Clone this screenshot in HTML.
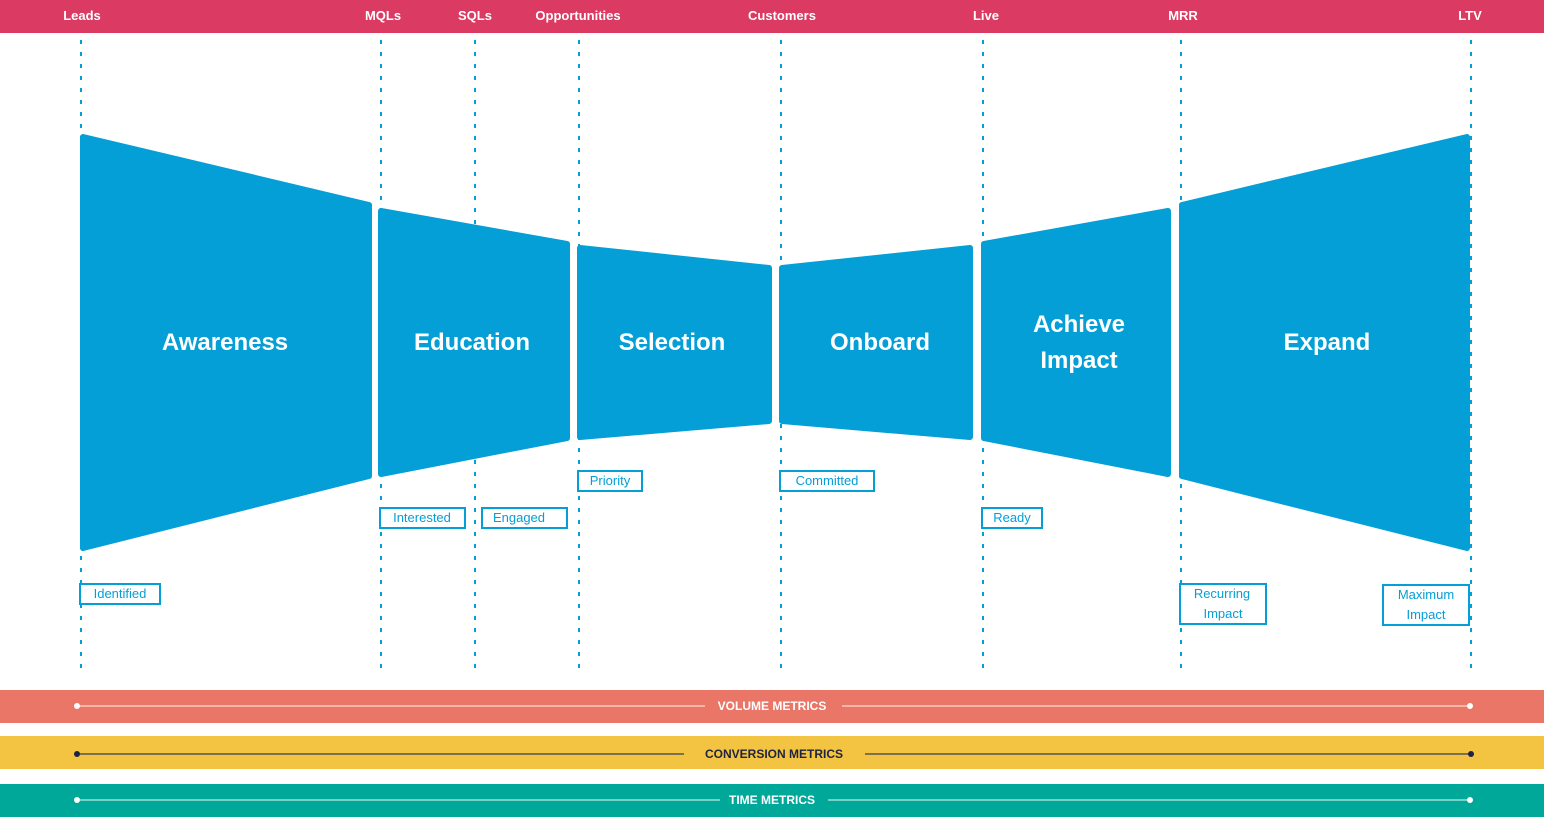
<!DOCTYPE html>
<html><head><meta charset="utf-8"><style>
body{margin:0;background:#fff;width:1544px;height:818px;overflow:hidden}
svg{display:block}
text{font-family:"Liberation Sans",sans-serif;font-weight:bold}
text.n{font-weight:normal}
</style></head><body>
<svg width="1544" height="818" viewBox="0 0 1544 818" xmlns="http://www.w3.org/2000/svg">
<rect x="0" y="0" width="1544" height="33" fill="#db3a63"/>
<g fill="#fff" font-size="13" text-anchor="middle">
<text x="82" y="20">Leads</text><text x="383" y="20">MQLs</text><text x="475" y="20">SQLs</text>
<text x="578" y="20">Opportunities</text><text x="782" y="20">Customers</text><text x="986" y="20">Live</text>
<text x="1183" y="20">MRR</text><text x="1470" y="20">LTV</text></g>
<g stroke="#049fd6" stroke-width="2" stroke-dasharray="4,8">
<line x1="81" y1="40" x2="81" y2="672"/><line x1="381" y1="40" x2="381" y2="672"/>
<line x1="475" y1="40" x2="475" y2="672"/><line x1="579" y1="40" x2="579" y2="672"/>
<line x1="781" y1="40" x2="781" y2="676"/><line x1="983" y1="40" x2="983" y2="676"/>
<line x1="1181" y1="40" x2="1181" y2="676"/><line x1="1471" y1="40" x2="1471" y2="676"/></g>
<g fill="#049fd6" stroke="#049fd6" stroke-width="6" stroke-linejoin="round">
<polygon points="83,137 369,205 369,476 83,548"/>
<polygon points="381,211 567,244 567,438 381,474"/>
<polygon points="580,248 769,268 769,421 580,437"/>
<polygon points="782,268 970,248 970,437 782,421"/>
<polygon points="984,244 1168,211 1168,474 984,438"/>
<polygon points="1182,205 1467,137 1467,548 1182,476"/></g>
<g fill="#fff" font-size="24" text-anchor="middle">
<text x="225" y="350">Awareness</text><text x="472" y="350">Education</text>
<text x="672" y="350">Selection</text><text x="880" y="350">Onboard</text>
<text x="1079" y="332">Achieve</text><text x="1079" y="368">Impact</text>
<text x="1327" y="350">Expand</text></g>
<g fill="#fff" stroke="#049fd6" stroke-width="2">
<rect x="80" y="584" width="80" height="20"/><rect x="380" y="508" width="85" height="20"/>
<rect x="482" y="508" width="85" height="20"/><rect x="578" y="471" width="64" height="20"/>
<rect x="780" y="471" width="94" height="20"/><rect x="982" y="508" width="60" height="20"/>
<rect x="1180" y="584" width="86" height="40"/><rect x="1383" y="585" width="86" height="40"/></g>
<g fill="#049fd6" font-size="13" text-anchor="middle">
<text class="n" x="120" y="598">Identified</text><text class="n" x="422" y="522">Interested</text>
<text class="n" x="519" y="522">Engaged</text><text class="n" x="610" y="485">Priority</text>
<text class="n" x="827" y="485">Committed</text><text class="n" x="1012" y="522">Ready</text>
<text class="n" x="1222" y="598">Recurring</text><text class="n" x="1223" y="618">Impact</text>
<text class="n" x="1426" y="599">Maximum</text><text class="n" x="1426" y="619">Impact</text></g>
<rect x="0" y="690" width="1544" height="33" fill="#ea7668"/>
<rect x="0" y="736" width="1544" height="33" fill="#f3c441"/>
<rect x="0" y="784" width="1544" height="33" fill="#00a89a"/>
<g stroke-width="1.5">
<line x1="77" y1="706" x2="705" y2="706" stroke="#f8c8c0"/><line x1="842" y1="706" x2="1470" y2="706" stroke="#f8c8c0"/>
<line x1="77" y1="754" x2="684" y2="754" stroke="#555"/><line x1="865" y1="754" x2="1471" y2="754" stroke="#555"/>
<line x1="77" y1="800" x2="720" y2="800" stroke="#9ee0d8"/><line x1="828" y1="800" x2="1470" y2="800" stroke="#9ee0d8"/></g>
<circle cx="77" cy="706" r="3" fill="#fff"/><circle cx="1470" cy="706" r="3" fill="#fff"/>
<circle cx="77" cy="754" r="3" fill="#1d2340"/><circle cx="1471" cy="754" r="3" fill="#1d2340"/>
<circle cx="77" cy="800" r="3" fill="#fff"/><circle cx="1470" cy="800" r="3" fill="#fff"/>
<g font-size="12" text-anchor="middle">
<text x="772" y="710" fill="#fff">VOLUME METRICS</text>
<text x="774" y="758" fill="#1d2340">CONVERSION METRICS</text>
<text x="772" y="804" fill="#fff">TIME METRICS</text></g>
</svg>
</body></html>
